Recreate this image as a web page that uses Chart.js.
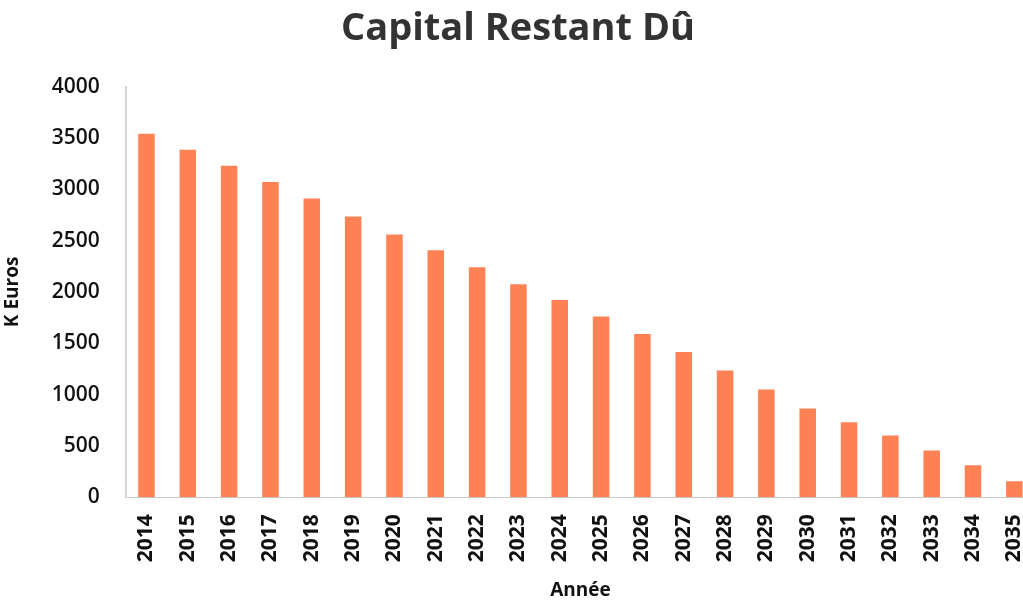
<!DOCTYPE html>
<html>
<head>
<meta charset="utf-8">
<script src="https://cdn.jsdelivr.net/npm/chart.js@4"></script>
<style>
  html, body { margin: 0; padding: 0; background: #fff; overflow: hidden; }
  #wrap { position: absolute; left: 0; top: 0; width: 1035px; height: 603px; }
</style>
</head>
<body>
<div id="wrap"><canvas id="capitalChart"></canvas></div>
<script>
// years on the x axis
const years = ['2014', '2015', '2016', '2017', '2018', '2019', '2020', '2021', '2022', '2023', '2024',
  '2025', '2026', '2027', '2028', '2029', '2030', '2031', '2032', '2033', '2034', '2035'];
// remaining capital, K euros
const capitalRestant = [3540, 3385, 3230, 3070, 2910, 2735, 2560, 2405, 2240, 2075, 1920,
  1760, 1590, 1415, 1235, 1050, 865, 730, 600, 455, 310, 155];
const yTicks = [0, 500, 1000, 1500, 2000, 2500, 3000, 3500, 4000];

const ctx = document.getElementById('capitalChart').getContext('2d');
const capitalChart = new Chart(ctx, {
  type: 'bar',
  data: {
    labels: years,
    datasets: [{
      label: 'Capital Restant Dû',
      data: capitalRestant,
      backgroundColor: '#FF8154',
      barPercentage: 0.8,
      categoryPercentage: 0.5
    }]
  },
  options: {
    responsive: true,
    maintainAspectRatio: false,
    animation: false,
    layout: { padding: { left: 1, right: 0, top: 0, bottom: 1 } },
    plugins: {
      legend: { display: false },
      tooltip: { enabled: false },
      title: {
        display: true,
        text: 'Capital Restant Dû',
        color: '#333333',
        font: { family: 'Open Sans', size: 38, weight: 'bold' },
        padding: { top: 6, bottom: 35 }
      }
    },
    scales: {
      x: {
        grid: { display: false, drawTicks: false },
        border: { display: true, color: '#c8c8c8', width: 1 },
        // rotated labels + padding make chart.js reserve room on the right, drop it
        afterFit: (axis) => { axis.paddingLeft = 0; axis.paddingRight = 0; },
        ticks: {
          color: '#111',
          font: { family: 'Open Sans', size: 21, weight: 'bold' },
          maxRotation: 90,
          minRotation: 90,
          padding: 17,
          autoSkip: false
        },
        title: {
          display: true,
          text: 'Année',
          color: '#111',
          font: { family: 'Open Sans', size: 19, weight: 'bold' },
          padding: { top: 0, bottom: 0 }
        }
      },
      y: {
        min: 0,
        max: 4000,
        afterBuildTicks: (axis) => { axis.ticks = yTicks.map(v => ({ value: v })); },
        grid: { display: false, drawTicks: false },
        border: { display: true, color: '#d4d4d4', width: 2 },
        ticks: {
          color: '#111',
          font: { family: 'Open Sans', size: 21, weight: '600' },
          padding: 26,
          callback: (v) => String(v)
        },
        title: {
          display: true,
          text: 'K Euros',
          color: '#111',
          font: { family: 'Open Sans', size: 19, weight: 'bold' },
          padding: { top: 0, bottom: 2 }
        }
      }
    }
  }
});
</script>
</body>
</html>
